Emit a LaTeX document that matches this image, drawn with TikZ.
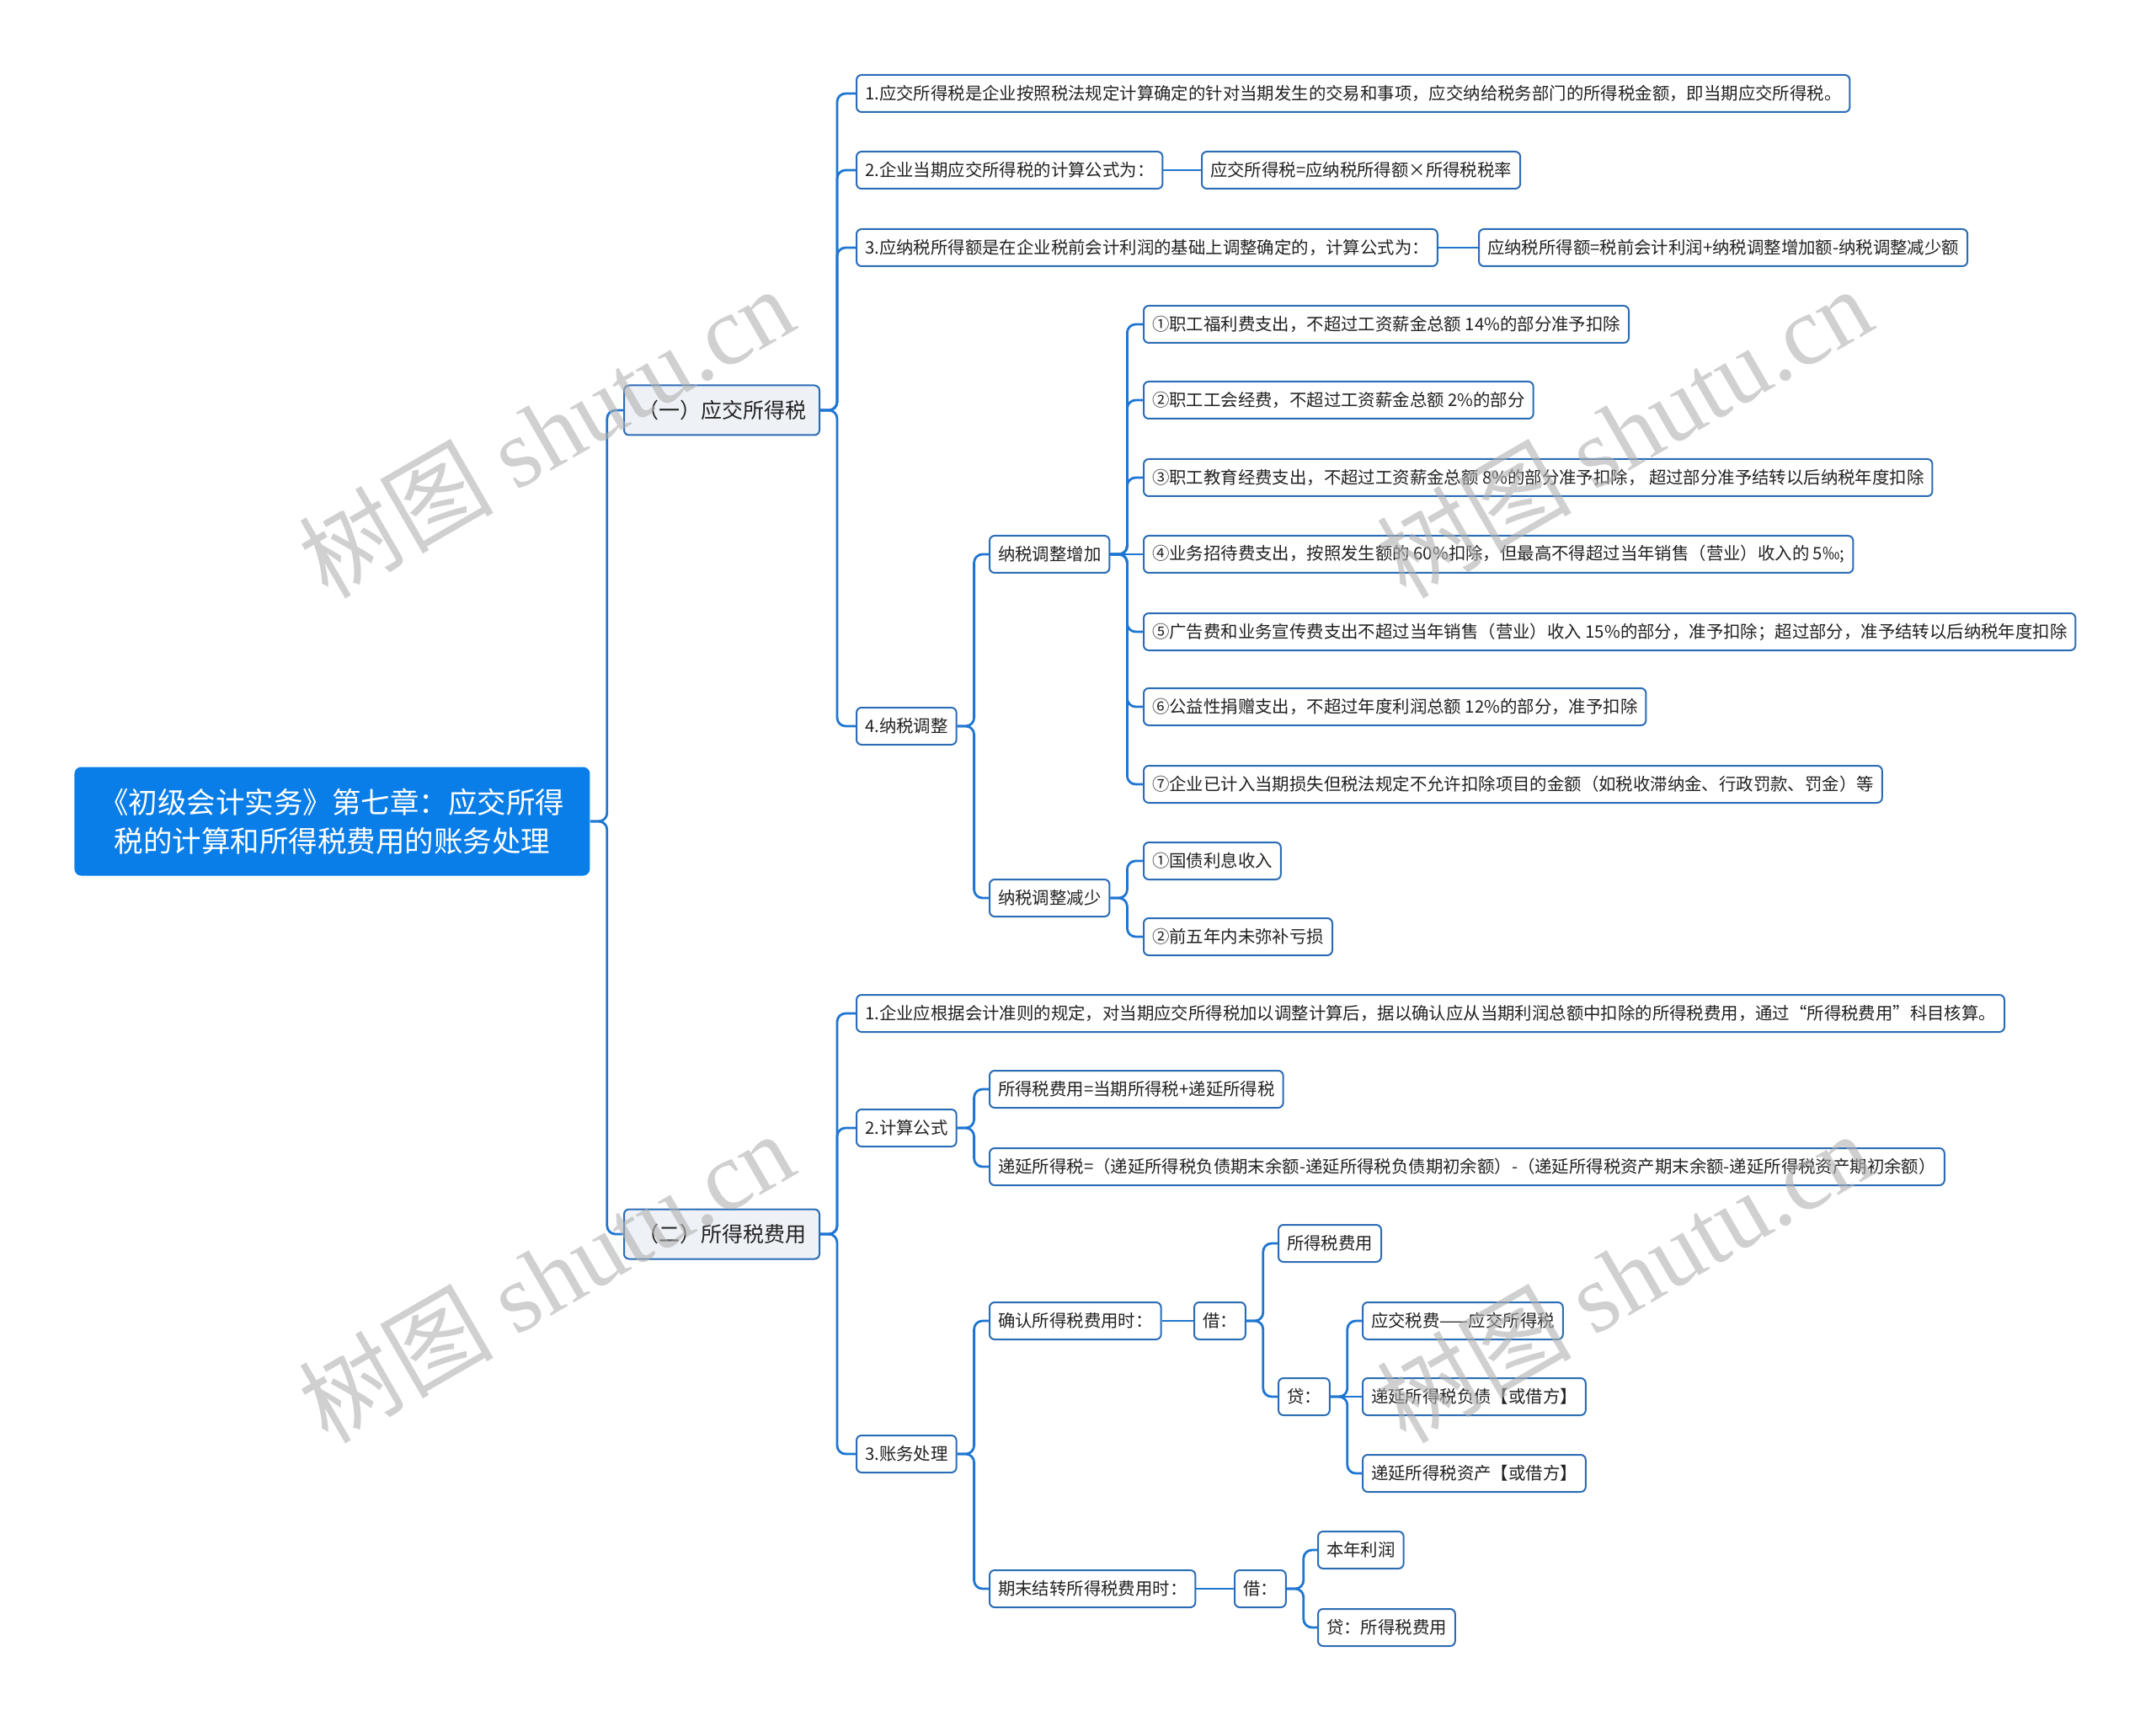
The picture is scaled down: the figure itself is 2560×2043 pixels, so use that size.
\documentclass[tikz,border=0pt]{standalone}
\usepackage{fontspec}
\setmainfont{Noto Sans CJK SC}
\newfontfamily\wmfont{Liberation Serif}
\usetikzlibrary{positioning,calc}

\definecolor{rootblue}{HTML}{0A7EE8}
\definecolor{boxblue}{HTML}{2B6CB5}
\definecolor{lineblue}{HTML}{1E76D2}
\definecolor{topicfill}{HTML}{EEF2F7}
\definecolor{inkgray}{HTML}{222222}
\definecolor{wmgray}{HTML}{B0B0B0}

\tikzset{
  leaf/.style={draw=boxblue, line width=1pt, rounded corners=3pt, fill=white,
    text=inkgray, font=\fontsize{10.2}{12}\selectfont, inner xsep=5pt,
    minimum height=22pt, anchor=west},
  topic/.style={leaf, fill=topicfill, font=\fontsize{12.5}{15}\selectfont,
    inner xsep=8pt, minimum height=29.5pt},
  rootbox/.style={fill=rootblue, rounded corners=4pt, text=white, align=center,
    font=\fontsize{17.25}{23}\selectfont, inner xsep=15pt, minimum height=64.5pt,
    anchor=west},
  link/.style={draw=lineblue, line width=1.4pt, rounded corners=5pt},
  watermark/.style={text=wmgray, text opacity=0.6, rotate=30,
    font=\fontsize{58}{62}\selectfont}
}

\begin{document}
\begin{tikzpicture}[x=0.5pt,y=-0.5pt]
   \useasboundingbox (0,0) rectangle (2560,2043);

   % root and main topics
   \node[rootbox] (root) at (88,975) {《初级会计实务》第七章：应交所得\\税的计算和所得税费用的账务处理};
   \node[topic] (ta) at (740,487) {（一）应交所得税};
   \node[topic] (tb) at (740,1465) {（二）所得税费用};

   % (一)
   \node[leaf] (a1) at (1016,111) {1.应交所得税是企业按照税法规定计算确定的针对当期发生的交易和事项，应交纳给税务部门的所得税金额，即当期应交所得税。};
   \node[leaf] (a2) at (1016,202) {2.企业当期应交所得税的计算公式为：};
   \node[leaf] (a2f) at (1426,202) {应交所得税=应纳税所得额×所得税税率};
   \node[leaf] (a3) at (1016,294) {3.应纳税所得额是在企业税前会计利润的基础上调整确定的，计算公式为：};
   \node[leaf] (a3f) at (1755,294) {应纳税所得额=税前会计利润+纳税调整增加额-纳税调整减少额};
   \node[leaf] (a4) at (1016,862) {4.纳税调整};
   \node[leaf] (inc) at (1174,658) {纳税调整增加};
   \node[leaf] (dec) at (1174,1066) {纳税调整减少};

   \node[leaf] (inc1) at (1357,385) {①职工福利费支出，不超过工资薪金总额 14\%的部分准予扣除};
   \node[leaf] (inc2) at (1357,475) {②职工工会经费，不超过工资薪金总额 2\%的部分};
   \node[leaf] (inc3) at (1357,567) {③职工教育经费支出，不超过工资薪金总额 8\%的部分准予扣除， 超过部分准予结转以后纳税年度扣除};
   \node[leaf] (inc4) at (1357,658) {④业务招待费支出，按照发生额的 60\%扣除，但最高不得超过当年销售（营业）收入的 5‰;};
   \node[leaf] (inc5) at (1357,750) {⑤广告费和业务宣传费支出不超过当年销售（营业）收入 15\%的部分，准予扣除；超过部分，准予结转以后纳税年度扣除};
   \node[leaf] (inc6) at (1357,839) {⑥公益性捐赠支出，不超过年度利润总额 12\%的部分，准予扣除};
   \node[leaf] (inc7) at (1357,931) {⑦企业已计入当期损失但税法规定不允许扣除项目的金额（如税收滞纳金、行政罚款、罚金）等};
   \node[leaf] (dec1) at (1357,1022) {①国债利息收入};
   \node[leaf] (dec2) at (1357,1112) {②前五年内未弥补亏损};

   % (二)
   \node[leaf] (b1) at (1016,1203) {1.企业应根据会计准则的规定，对当期应交所得税加以调整计算后，据以确认应从当期利润总额中扣除的所得税费用，通过“所得税费用”科目核算。};
   \node[leaf] (b2) at (1016,1339) {2.计算公式};
   \node[leaf] (b2a) at (1174,1293) {所得税费用=当期所得税+递延所得税};
   \node[leaf] (b2b) at (1174,1385) {递延所得税=（递延所得税负债期末余额-递延所得税负债期初余额）-（递延所得税资产期末余额-递延所得税资产期初余额）};
   \node[leaf] (b3) at (1016,1726) {3.账务处理};

   \node[leaf] (conf) at (1174,1568) {确认所得税费用时：};
   \node[leaf] (confdr) at (1417,1568) {借：};
   \node[leaf] (confexp) at (1517,1476) {所得税费用};
   \node[leaf] (confcr) at (1517,1658) {贷：};
   \node[leaf] (cr1) at (1617,1568) {应交税费——应交所得税};
   \node[leaf] (cr2) at (1617,1658) {递延所得税负债【或借方】};
   \node[leaf] (cr3) at (1617,1749) {递延所得税资产【或借方】};

   \node[leaf] (close) at (1174,1886) {期末结转所得税费用时：};
   \node[leaf] (closedr) at (1465,1886) {借：};
   \node[leaf] (profit) at (1564,1840) {本年利润};
   \node[leaf] (closecr) at (1564,1932) {贷：所得税费用};

   % connectors, bent
   \foreach \p/\c in {root/ta, root/tb,
         ta/a1, ta/a2, ta/a3, ta/a4,
         a4/inc, a4/dec,
         inc/inc1, inc/inc2, inc/inc3, inc/inc5, inc/inc6, inc/inc7,
         dec/dec1, dec/dec2,
         tb/b1, tb/b2, tb/b3, b2/b2a, b2/b2b,
         b3/conf, b3/close, confdr/confexp, confdr/confcr,
         confcr/cr1, confcr/cr3,
         closedr/profit, closedr/closecr}
      \draw[link] (\p.east) -- ++(20,0) |- (\c.west);
   % connectors, straight
   \foreach \p/\c in {a2/a2f, a3/a3f, inc/inc4, conf/confdr, confcr/cr2, close/closedr}
      \draw[link] (\p.east) -- (\c.west);

   % watermarks
   \foreach \wx/\wy [count=\i] in {648/512, 1928/512, 648/1515, 1928/1515}
      \node[watermark] (wm\i) at (\wx,\wy) {树图 {\wmfont shutu.cn}};
\end{tikzpicture}
\end{document}
